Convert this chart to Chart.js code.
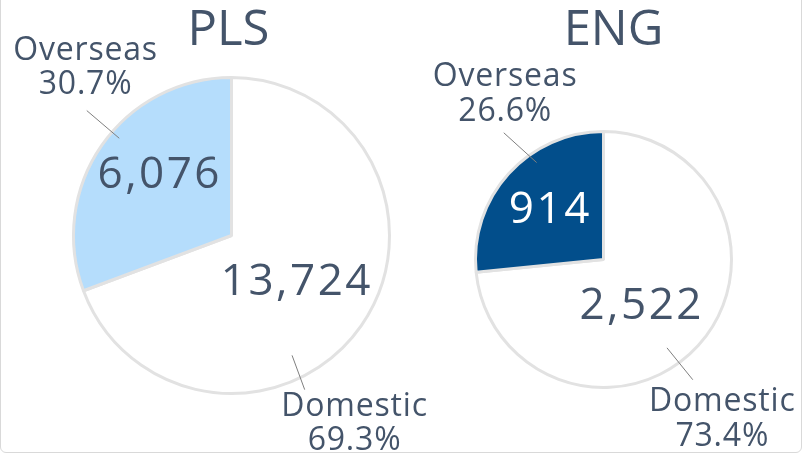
<!DOCTYPE html>
<html>
<head>
<meta charset="utf-8">
<script src="https://cdn.jsdelivr.net/npm/chart.js@4.4.1/dist/chart.umd.min.js"></script>
<style>
  html, body { margin: 0; padding: 0; background: #fff; }
  #lienzo { position: relative; width: 805px; height: 454px; overflow: hidden; }
  #marco { position: absolute; left: 0; top: -10px; width: 800px; height: 461px;
           border: 1px solid #d9d9d9; border-radius: 0 0 6px 6px; }
  canvas { position: absolute; top: 0; left: 0; }
</style>
</head>
<body>
<div id="lienzo">
  <div id="marco"></div>
  <canvas id="graficoPLS" width="805" height="454"></canvas>
  <canvas id="graficoENG" width="805" height="454"></canvas>
</div>
<script>
// Datos de los dos gráficos
const titulos = ["PLS", "ENG"];
const categorias = ["Domestic", "Overseas"];
const valoresPLS = [13724, 6076];
const valoresENG = [2522, 914];

const COLOR_TEXTO = "#44546A";
const FUENTE = "'Open Sans', 'Noto Sans', sans-serif";

// Ubicación de etiquetas (ángulo en grados desde arriba, radio relativo)
const disposicion = {
    PLS: {
        colores: ["#FFFFFF", "#B5DDFC"],
        colorValor: [COLOR_TEXTO, COLOR_TEXTO],
        tituloDx: -3, tituloBase: 45,
        valorDA: [-0.7, 6], valorR: [0.49, 0.61],
        bloque: [[146.6, 1.41], [319.3, 1.42]],
        guia: [[153.2, 0.85, 154.6, 1.08], [310.9, 0.94, 310.8, 1.21]],
        padding: { left: 72, top: 76, right: 414, bottom: 59 }
    },
    ENG: {
        colores: ["#FFFFFF", "#024E8B"],
        colorValor: [COLOR_TEXTO, "#FFFFFF"],
        tituloDx: 10, tituloBase: 45,
        valorDA: [8, 1.8], valorR: [0.45, 0.59],
        bloque: [[143.1, 1.54], [329.5, 1.52]],
        guia: [[144.3, 0.85, 143.4, 1.17], [325.4, 0.92, 321.8, 1.26]],
        padding: { left: 474, top: 130, right: 72, bottom: 65 }
    }
};

// Punto polar a partir del centro del arco
const polar = (arco, grados, frac) => {
    const a = grados * Math.PI / 180;
    return { x: arco.x + arco.outerRadius * frac * Math.sin(a), y: arco.y - arco.outerRadius * frac * Math.cos(a) };
};

const etiquetasPlugin = {
    id: "etiquetas",
    afterDatasetsDraw(chart) {
        const ctx = chart.ctx;
        const titulo = chart.options.plugins.etiquetas.titulo;
        const cfg = disposicion[titulo];
        const meta = chart.getDatasetMeta(0);
        const valores = chart.data.datasets[0].data;
        const total = valores.reduce((a, b) => a + b, 0);
        const centro = meta.data[0];

        ctx.save();
        ctx.textAlign = "center";
        ctx.textBaseline = "alphabetic";

        // Título
        ctx.fillStyle = COLOR_TEXTO;
        ctx.font = "49px " + FUENTE;
        ctx.letterSpacing = "0px";
        ctx.fillText(titulo, centro.x + cfg.tituloDx, cfg.tituloBase);

        meta.data.forEach((arco, i) => {
            const medio = ((arco.startAngle + arco.endAngle) / 2) * 180 / Math.PI + 90;

            // Valor dentro de la porción
            const pv = polar(arco, medio + cfg.valorDA[i], cfg.valorR[i]);
            ctx.fillStyle = cfg.colorValor[i];
            ctx.font = "44px " + FUENTE;
            ctx.letterSpacing = "2.5px";
            ctx.fillText(valores[i].toLocaleString("en-US"), pv.x + 1.25, pv.y + 44 * 0.357);

            // Línea guía
            const g = cfg.guia[i];
            const p1 = polar(arco, g[0], g[1]);
            const p2 = polar(arco, g[2], g[3]);
            ctx.strokeStyle = "#7F7F7F";
            ctx.lineWidth = 1;
            ctx.beginPath();
            ctx.moveTo(p1.x, p1.y);
            ctx.lineTo(p2.x, p2.y);
            ctx.stroke();

            // Categoría y porcentaje
            const pb = polar(arco, cfg.bloque[i][0], cfg.bloque[i][1]);
            const pct = (valores[i] / total * 100).toFixed(1) + "%";
            ctx.fillStyle = COLOR_TEXTO;
            ctx.font = "32px " + FUENTE;
            ctx.letterSpacing = "0.8px";
            ctx.fillText(categorias[i], pb.x + 0.4, pb.y - 17.25 + 32 * 0.357);
            ctx.fillText(pct, pb.x + 0.4, pb.y + 17.25 + 32 * 0.357);
        });
        ctx.restore();
    }
};

const crearPie = (idCanvas, titulo, valores) => {
    const cfg = disposicion[titulo];
    return new Chart(document.getElementById(idCanvas), {
        type: "pie",
        data: {
            labels: categorias,
            datasets: [{
                data: valores,
                backgroundColor: cfg.colores,
                borderColor: "#E2E2E2",
                borderWidth: 3
            }]
        },
        options: {
            responsive: false,
            animation: false,
            devicePixelRatio: 1,
            layout: { padding: cfg.padding },
            plugins: {
                legend: { display: false },
                tooltip: { enabled: false },
                etiquetas: { titulo: titulo }
            }
        },
        plugins: [etiquetasPlugin]
    });
};

crearPie("graficoPLS", titulos[0], valoresPLS);
crearPie("graficoENG", titulos[1], valoresENG);
</script>
</body>
</html>
